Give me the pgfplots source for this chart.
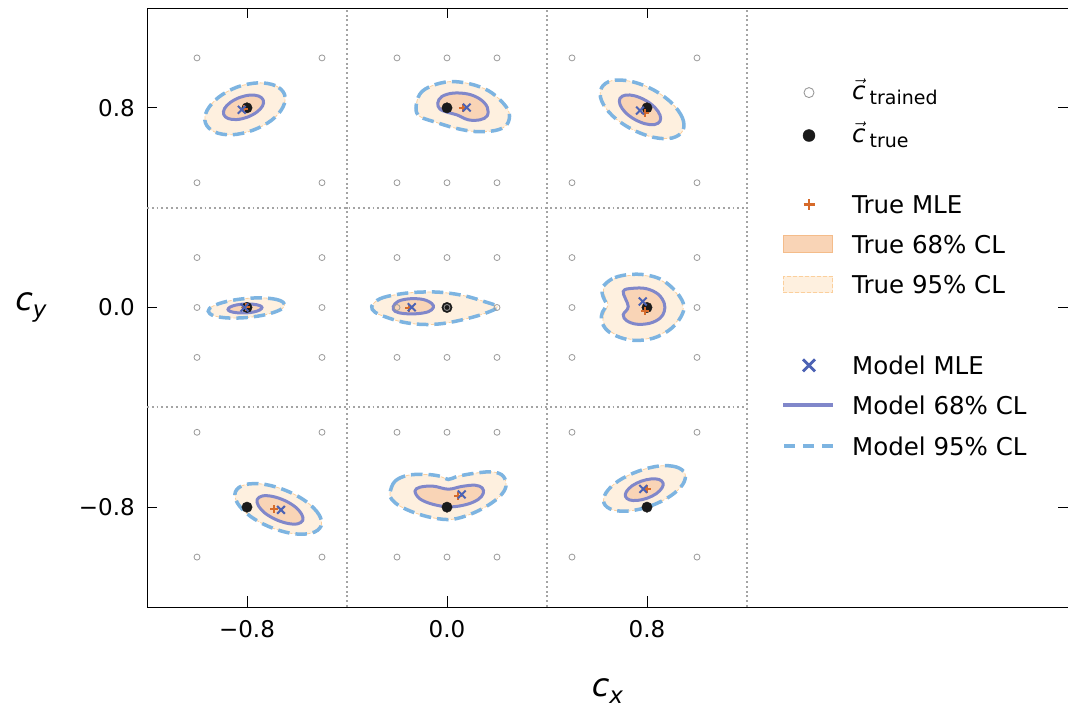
\documentclass[border=0pt]{standalone}
\usepackage{fontspec}
\setmainfont{DejaVu Sans}
\usepackage{pgfplots}
\usepackage{pgfplotstable}
\pgfplotsset{compat=1.18}
\definecolor{tnf}{HTML}{FEF0DF}
\definecolor{tne}{HTML}{FBCF9C}
\definecolor{tsf}{HTML}{F9D4B6}
\definecolor{tse}{HTML}{F4BC8A}
\definecolor{msl}{HTML}{8087CA}
\definecolor{mnl}{HTML}{7DB4E1}
\definecolor{mmle}{HTML}{4C62B4}
\definecolor{tmle}{HTML}{D66A2A}
\definecolor{gridc}{HTML}{A4A4A4}
\definecolor{trc}{HTML}{9A9A9A}
\definecolor{tdot}{HTML}{1A1A1A}
% ---- 95% contours ----
\pgfplotstableread{
x y
-0.650 0.854
-0.687 0.889
-0.756 0.900
-0.840 0.883
-0.914 0.842
-0.960 0.789
-0.966 0.739
-0.929 0.703
-0.860 0.692
-0.777 0.710
-0.702 0.750
-0.656 0.803
}\TLn
\pgfplotstableread{
x y
-0.124 0.799
-0.108 0.856
-0.061 0.888
0.012 0.905
0.092 0.896
0.165 0.869
0.219 0.825
0.249 0.779
0.239 0.732
0.192 0.709
0.112 0.705
0.032 0.719
-0.041 0.741
-0.108 0.765
}\TMn
\pgfplotstableread{
x y
0.943 0.708
0.942 0.759
0.898 0.820
0.822 0.874
0.735 0.906
0.660 0.909
0.618 0.880
0.618 0.829
0.662 0.768
0.738 0.715
0.825 0.682
0.900 0.679
}\TRn
\pgfplotstableread{
x y
-0.649 0.011
-0.671 0.029
-0.728 0.038
-0.805 0.036
-0.882 0.024
-0.937 0.005
-0.955 -0.015
-0.933 -0.033
-0.876 -0.042
-0.799 -0.040
-0.722 -0.028
-0.667 -0.009
}\MLn
\pgfplotstableread{
x y
-0.301 0.005
-0.268 0.035
-0.201 0.052
-0.121 0.061
-0.028 0.061
0.065 0.048
0.145 0.025
0.201 0.003
0.159 -0.021
0.079 -0.045
-0.015 -0.064
-0.095 -0.068
-0.175 -0.059
-0.248 -0.037
-0.288 -0.019
}\MMn
\pgfplotstableread{
x y
0.638 0.092
0.672 0.116
0.728 0.128
0.792 0.128
0.852 0.111
0.899 0.077
0.932 0.037
0.945 -0.003
0.925 -0.049
0.885 -0.089
0.825 -0.120
0.752 -0.129
0.692 -0.116
0.645 -0.089
0.624 -0.052
0.630 -0.018
0.644 0.010
0.631 0.046
0.626 0.072
}\MRt
\pgfplotstableread{
x y
0.636 0.097
0.672 0.120
0.728 0.132
0.792 0.131
0.853 0.114
0.900 0.080
0.935 0.038
0.948 -0.003
0.928 -0.050
0.887 -0.092
0.825 -0.123
0.752 -0.132
0.690 -0.119
0.641 -0.092
0.618 -0.053
0.622 -0.018
0.638 0.010
0.624 0.044
0.620 0.074
}\MRn
\pgfplotstableread{
x y
-0.504 -0.876
-0.512 -0.830
-0.564 -0.777
-0.645 -0.733
-0.734 -0.708
-0.808 -0.710
-0.846 -0.738
-0.838 -0.784
-0.786 -0.837
-0.705 -0.881
-0.616 -0.906
-0.542 -0.904
}\BLn
\pgfplotstableread{
x y
-0.228 -0.743
-0.208 -0.696
-0.155 -0.672
-0.081 -0.669
-0.028 -0.676
0.005 -0.689
0.045 -0.676
0.119 -0.663
0.185 -0.659
0.225 -0.676
0.236 -0.716
0.212 -0.756
0.159 -0.796
0.092 -0.829
0.019 -0.849
-0.055 -0.843
-0.128 -0.823
-0.188 -0.796
-0.221 -0.769
}\BMn
\pgfplotstableread{
x y
0.952 -0.666
0.917 -0.639
0.849 -0.635
0.765 -0.656
0.687 -0.694
0.637 -0.741
0.628 -0.784
0.663 -0.811
0.731 -0.815
0.815 -0.795
0.893 -0.756
0.943 -0.709
}\BRn
% ---- 68% contours ----
\pgfplotstableread{
x y
-0.735 0.831
-0.753 0.847
-0.787 0.851
-0.828 0.842
-0.866 0.822
-0.890 0.797
-0.893 0.773
-0.875 0.757
-0.841 0.753
-0.800 0.762
-0.762 0.782
-0.738 0.807
}\TLs
\pgfplotstableread{
x y
-0.037 0.819
-0.021 0.845
0.025 0.859
0.085 0.855
0.132 0.835
0.161 0.803
0.161 0.768
0.132 0.752
0.085 0.752
0.039 0.772
0.005 0.781
-0.028 0.795
}\TMs
\pgfplotstableread{
x y
0.852 0.746
0.852 0.771
0.831 0.802
0.794 0.830
0.751 0.848
0.714 0.851
0.692 0.838
0.692 0.813
0.713 0.782
0.750 0.754
0.793 0.736
0.830 0.733
}\TRs
\pgfplotstableread{
x y
-0.740 0.000
-0.750 0.008
-0.775 0.013
-0.809 0.014
-0.843 0.010
-0.867 0.002
-0.876 -0.008
-0.866 -0.016
-0.841 -0.021
-0.807 -0.022
-0.773 -0.018
-0.749 -0.010
}\MLs
\pgfplotstableread{
x y
-0.215 0.003
-0.195 0.025
-0.148 0.035
-0.095 0.032
-0.061 0.016
-0.055 -0.001
-0.075 -0.017
-0.121 -0.025
-0.175 -0.024
-0.208 -0.015
}\MMs
\pgfplotstableread{
x y
0.705 0.064
0.745 0.077
0.799 0.075
0.845 0.053
0.869 0.017
0.869 -0.016
0.852 -0.043
0.812 -0.063
0.759 -0.067
0.719 -0.053
0.705 -0.029
0.725 0.004
}\MRs
\pgfplotstableread{
x y
-0.577 -0.853
-0.581 -0.829
-0.607 -0.799
-0.650 -0.773
-0.698 -0.757
-0.738 -0.755
-0.759 -0.769
-0.755 -0.793
-0.729 -0.823
-0.686 -0.849
-0.638 -0.865
-0.598 -0.867
}\BLs
\pgfplotstableread{
x y
-0.128 -0.736
-0.108 -0.720
-0.055 -0.716
0.005 -0.728
0.059 -0.717
0.112 -0.712
0.141 -0.723
0.145 -0.745
0.125 -0.769
0.079 -0.789
0.012 -0.799
-0.055 -0.789
-0.108 -0.767
}\BMs
\pgfplotstableread{
x y
0.864 -0.703
0.848 -0.689
0.816 -0.687
0.777 -0.696
0.741 -0.714
0.718 -0.737
0.714 -0.757
0.730 -0.771
0.762 -0.773
0.801 -0.764
0.837 -0.746
0.860 -0.723
}\BRs
\pgfplotsset{
  tn/.style={fill=tnf, draw=tne, line width=0.8pt, dash pattern=on 4pt off 2pt, smooth cycle, tension=0.6, mark=none},
  ts/.style={fill=tsf, draw=tse, line width=0.6pt, smooth cycle, tension=0.6, mark=none},
  ms/.style={draw=msl, line width=3pt, smooth cycle, tension=0.6, mark=none},
  mn/.style={draw=mnl, line width=3.5pt, dash pattern=on 11.5pt off 6pt, smooth cycle, tension=0.6, mark=none},
  gl/.style={gridc, line width=1.9pt, dash pattern=on 1.9pt off 2.9pt},
}
\newcommand{\lf}{\fontsize{24.5}{24.5}\selectfont}
\begin{document}
\begin{tikzpicture}
\begin{axis}[
  width=921pt, height=599pt, scale only axis,
  xmin=-1.2, xmax=2.484, ymin=-1.2, ymax=1.2,
  axis line style={line width=0.9pt, black},
  xtick={-0.8,0,0.8}, ytick={-0.8,0,0.8},
  xticklabels={−0.8,0.0,0.8}, yticklabels={−0.8,0.0,0.8},
  tick align=inside, tick pos=both,
  major tick length=10.5pt,
  every tick/.style={black, line width=0.9pt},
  ticklabel style={font=\fontsize{23}{23}\selectfont, inner sep=0pt},
  xticklabel style={yshift=-13pt},
  yticklabel style={xshift=-12pt},
  xlabel={\fontsize{32}{32}\selectfont\textit{c}\raisebox{-7pt}{\fontsize{23}{23}\selectfont\textit{x}}},
  ylabel={\fontsize{32}{32}\selectfont\textit{c}\raisebox{-7pt}{\fontsize{23}{23}\selectfont\textit{y}}},
  every axis x label/.style={at={(axis description cs:0.5,0)}, anchor=center, yshift=-84pt},
  every axis y label/.style={at={(axis description cs:0,0.5)}, anchor=center, xshift=-116pt},
]
\coordinate (bl) at (rel axis cs:0,0);
\coordinate (tr) at (rel axis cs:1,1);
% dotted panel separators
\addplot[gl] coordinates {(-0.4,-1.2) (-0.4,1.2)};
\addplot[gl] coordinates {(0.4,-1.2) (0.4,1.2)};
\addplot[gl] coordinates {(1.2,-1.2) (1.2,1.2)};
\addplot[gl] coordinates {(-1.2,0.4) (1.2,0.4)};
\addplot[gl] coordinates {(-1.2,-0.4) (1.2,-0.4)};
% true 95
\addplot[tn] table {\TLn};
\addplot[tn] table {\TMn};
\addplot[tn] table {\TRn};
\addplot[tn] table {\MLn};
\addplot[tn] table {\MMn};
\addplot[tn] table {\MRt};
\addplot[tn] table {\BLn};
\addplot[tn] table {\BMn};
\addplot[tn] table {\BRn};
% true 68
\addplot[ts] table {\TLs};
\addplot[ts] table {\TMs};
\addplot[ts] table {\TRs};
\addplot[ts] table {\MLs};
\addplot[ts] table {\MMs};
\addplot[ts] table {\MRs};
\addplot[ts] table {\BLs};
\addplot[ts] table {\BMs};
\addplot[ts] table {\BRs};
% model 68
\addplot[ms] table {\TLs};
\addplot[ms] table {\TMs};
\addplot[ms] table {\TRs};
\addplot[ms] table {\MLs};
\addplot[ms] table {\MMs};
\addplot[ms] table {\MRs};
\addplot[ms] table {\BLs};
\addplot[ms] table {\BMs};
\addplot[ms] table {\BRs};
% model 95
\addplot[mn] table {\TLn};
\addplot[mn] table {\TMn};
\addplot[mn] table {\TRn};
\addplot[mn] table {\MLn};
\addplot[mn] table {\MMn};
\addplot[mn] table {\MRn};
\addplot[mn] table {\BLn};
\addplot[mn] table {\BMn};
\addplot[mn] table {\BRn};
% true c
\addplot[only marks, mark=*, mark size=5.2pt, mark options={fill=tdot, draw=tdot}] coordinates {
(-0.8,0.8) (0,0.8) (0.8,0.8) (-0.8,0) (0,0) (0.8,0) (-0.8,-0.8) (0,-0.8) (0.8,-0.8)};
% trained grid
\addplot[only marks, mark=o, mark size=3pt, mark options={draw=trc, line width=0.8pt, fill=none}] coordinates {
(-1.0,1.0) (-0.5,1.0) (-0.2,1.0) (0,1.0) (0.2,1.0) (0.5,1.0) (1.0,1.0)
(-1.0,0.5) (-0.5,0.5) (-0.2,0.5) (0,0.5) (0.2,0.5) (0.5,0.5) (1.0,0.5)
(-1.0,0.2) (-0.5,0.2) (-0.2,0.2) (0,0.2) (0.2,0.2) (0.5,0.2) (1.0,0.2)
(-1.0,0) (-0.5,0) (-0.2,0) (0,0) (0.2,0) (0.5,0) (1.0,0)
(-1.0,-0.2) (-0.5,-0.2) (-0.2,-0.2) (0,-0.2) (0.2,-0.2) (0.5,-0.2) (1.0,-0.2)
(-1.0,-0.5) (-0.5,-0.5) (-0.2,-0.5) (0,-0.5) (0.2,-0.5) (0.5,-0.5) (1.0,-0.5)
(-1.0,-1.0) (-0.5,-1.0) (-0.2,-1.0) (0,-1.0) (0.2,-1.0) (0.5,-1.0) (1.0,-1.0)};
% true MLE
\addplot[only marks, mark=+, mark size=4pt, mark options={draw=tmle, line width=2pt}] coordinates {
(-0.812,0.796) (0.063,0.801) (0.792,0.779) (-0.805,0.0) (-0.150,-0.002) (0.792,-0.016) (-0.691,-0.808) (0.045,-0.756) (0.799,-0.727)};
% model MLE
\addplot[only marks, mark=x, mark size=5.5pt, mark options={draw=mmle, line width=2pt}] coordinates {
(-0.821,0.792) (0.079,0.801) (0.772,0.789) (-0.810,0.0) (-0.141,0.001) (0.783,0.024) (-0.664,-0.811) (0.059,-0.749) (0.785,-0.727)};
% ---- legend ----
\addplot[only marks, mark=o, mark size=5pt, mark options={draw=trc, line width=0.9pt}] coordinates {(1.448,0.861)};
\addplot[only marks, mark=*, mark size=6pt, mark options={fill=tdot, draw=tdot}] coordinates {(1.448,0.689)};
\addplot[only marks, mark=+, mark size=5.5pt, mark options={draw=tmle, line width=2.6pt}] coordinates {(1.448,0.412)};
\addplot[fill=tsf, draw=tse, line width=0.8pt] coordinates {(1.345,0.219) (1.543,0.219) (1.543,0.289) (1.345,0.289)} -- cycle;
\addplot[fill=tnf, draw=tne, line width=0.8pt, dash pattern=on 4pt off 2pt] coordinates {(1.345,0.059) (1.543,0.059) (1.543,0.125) (1.345,0.125)} -- cycle;
\addplot[only marks, mark=x, mark size=8.5pt, mark options={draw=mmle, line width=2.8pt}] coordinates {(1.448,-0.232)};
\addplot[msl, line width=3.5pt] coordinates {(1.344,-0.391) (1.544,-0.391)};
\addplot[mnl, line width=3.5pt, dash pattern=on 11pt off 8pt] coordinates {(1.348,-0.555) (1.544,-0.555)};
\node[anchor=west, inner sep=0pt] at (axis cs:1.62,0.864) {\lf$\vec{\textit{c}}$\hspace{4pt}\raisebox{-5pt}{\fontsize{19}{19}\selectfont trained}};
\node[anchor=west, inner sep=0pt] at (axis cs:1.62,0.692) {\lf$\vec{\textit{c}}$\hspace{4pt}\raisebox{-5pt}{\fontsize{19}{19}\selectfont true}};
\node[anchor=west, inner sep=0pt] at (axis cs:1.62,0.412) {\lf True MLE};
\node[anchor=west, inner sep=0pt] at (axis cs:1.62,0.252) {\lf True 68\% CL};
\node[anchor=west, inner sep=0pt] at (axis cs:1.62,0.092) {\lf True 95\% CL};
\node[anchor=west, inner sep=0pt] at (axis cs:1.62,-0.232) {\lf Model MLE};
\node[anchor=west, inner sep=0pt] at (axis cs:1.62,-0.391) {\lf Model 68\% CL};
\node[anchor=west, inner sep=0pt] at (axis cs:1.62,-0.555) {\lf Model 95\% CL};
\end{axis}
\pgfresetboundingbox
\path[use as bounding box] ([xshift=-147pt,yshift=-111pt]bl) rectangle ([yshift=8pt]tr);
\end{tikzpicture}
\end{document}
